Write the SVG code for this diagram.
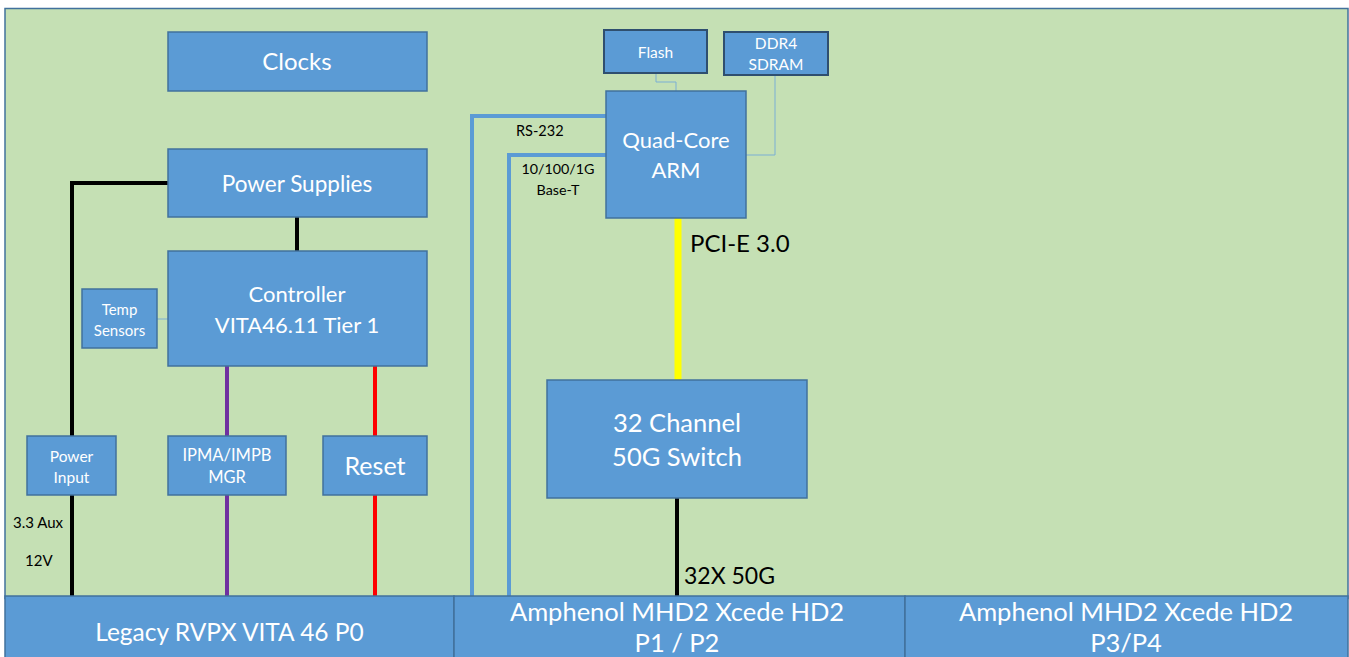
<svg xmlns="http://www.w3.org/2000/svg" width="1349" height="657" viewBox="0 0 1349 657">
<style>
.box{fill:#5B9BD5;stroke:#41719C;stroke-width:1.5}
.dark{fill:#5B9BD5;stroke:#2F4F6F;stroke-width:2}
.t{font-family:Lato,"Open Sans","Liberation Sans",sans-serif;fill:#FFFFFF;text-anchor:middle}
.k{font-family:Lato,"Open Sans","Liberation Sans",sans-serif;fill:#000000}
.thin{stroke:#7BAFD4;stroke-width:1;fill:none}
.eth{stroke:#5B9BD5;stroke-width:4;fill:none}
</style>
<rect x="0" y="0" width="1349" height="657" fill="#FFFFFF"/>
<rect x="5" y="8.5" width="1343" height="590" fill="#C5E0B4" stroke="#41719C" stroke-width="1.5"/>
<g id="connectors">
<polyline points="168,183 72,183 72,596" fill="none" stroke="#000" stroke-width="4"/>
<line x1="297" y1="217" x2="297" y2="251" stroke="#000" stroke-width="4"/>
<line x1="227" y1="366" x2="227" y2="596" stroke="#7030A0" stroke-width="4"/>
<line x1="375" y1="366" x2="375" y2="596" stroke="#FF0000" stroke-width="4"/>
<line x1="157" y1="319" x2="168" y2="319" class="thin"/>
<polyline points="656,73 656,82 676,82 676,91" class="thin"/>
<polyline points="775,75 775,155 746,155" class="thin"/>
<polyline points="606,116 472,116 472,596" class="eth"/>
<polyline points="606,155 509,155 509,596" class="eth"/>
<line x1="678" y1="218" x2="678" y2="380" stroke="#FFFF00" stroke-width="7"/>
<line x1="677" y1="498" x2="677" y2="596" stroke="#000" stroke-width="4"/>
<text x="516" y="136" class="k" font-size="14.5">RS-232</text>
<text x="558" y="174" class="k" font-size="14.3" text-anchor="middle">10/100/1G</text>
<text x="558" y="195" class="k" font-size="14.3" text-anchor="middle">Base-T</text>
<text x="690" y="252" class="k" font-size="24">PCI-E 3.0</text>
<text x="684" y="584" class="k" font-size="23">32X 50G</text>
<text x="13" y="528" class="k" font-size="15">3.3 Aux</text>
<text x="25" y="566" class="k" font-size="15">12V</text>
</g>
<g id="clocks"><rect x="168" y="32" width="259" height="59" class="box"/><text x="297" y="70" class="t" font-size="24">Clocks</text></g>
<g id="power-supplies"><rect x="168" y="149" width="259" height="68" class="box"/><text x="297" y="192" class="t" font-size="22.5">Power Supplies</text></g>
<g id="controller"><rect x="168" y="251" width="259" height="115" class="box"/><text x="297" y="302" class="t" font-size="22">Controller</text><text x="297" y="333" class="t" font-size="22">VITA46.11 Tier 1</text></g>
<g id="temp-sensors"><rect x="82" y="289" width="75" height="59" class="box"/><text x="119.5" y="315" class="t" font-size="15">Temp</text><text x="119.5" y="336" class="t" font-size="15">Sensors</text></g>
<g id="power-input"><rect x="27" y="436" width="89" height="59" class="box"/><text x="71.5" y="462" class="t" font-size="15.5">Power</text><text x="71.5" y="483" class="t" font-size="15.5">Input</text></g>
<g id="ipma"><rect x="168" y="436" width="118" height="59" class="box"/><text x="227" y="461" class="t" font-size="16.5">IPMA/IMPB</text><text x="227" y="483" class="t" font-size="16.5">MGR</text></g>
<g id="reset"><rect x="323" y="436" width="104" height="59" class="box"/><text x="375" y="475" class="t" font-size="25">Reset</text></g>
<g id="flash"><rect x="604" y="30" width="103" height="43" class="dark"/><text x="655.5" y="58" class="t" font-size="15.5">Flash</text></g>
<g id="ddr4"><rect x="724" y="32" width="104" height="43" class="dark"/><text x="776" y="49" class="t" font-size="15.5">DDR4</text><text x="776" y="70" class="t" font-size="15.5">SDRAM</text></g>
<g id="arm"><rect x="606" y="91" width="140" height="127" class="box"/><text x="676" y="148" class="t" font-size="22">Quad-Core</text><text x="676" y="178" class="t" font-size="22">ARM</text></g>
<g id="switch"><rect x="547" y="380" width="260" height="118" class="box"/><text x="677" y="432" class="t" font-size="25.5">32 Channel</text><text x="677" y="466" class="t" font-size="25.5">50G Switch</text></g>
<g id="p0"><rect x="5" y="596" width="449" height="64" class="box"/><text x="229.5" y="641" class="t" font-size="24.5">Legacy RVPX VITA 46 P0</text></g>
<g id="p1p2"><rect x="454" y="596" width="451" height="64" class="box"/><text x="677" y="621" class="t" font-size="25.5">Amphenol MHD2 Xcede HD2</text><text x="677" y="652" class="t" font-size="25.5">P1 / P2</text></g>
<g id="p3p4"><rect x="905" y="596" width="443" height="64" class="box"/><text x="1126" y="621" class="t" font-size="25.5">Amphenol MHD2 Xcede HD2</text><text x="1126" y="652" class="t" font-size="25.5">P3/P4</text></g>
</svg>
